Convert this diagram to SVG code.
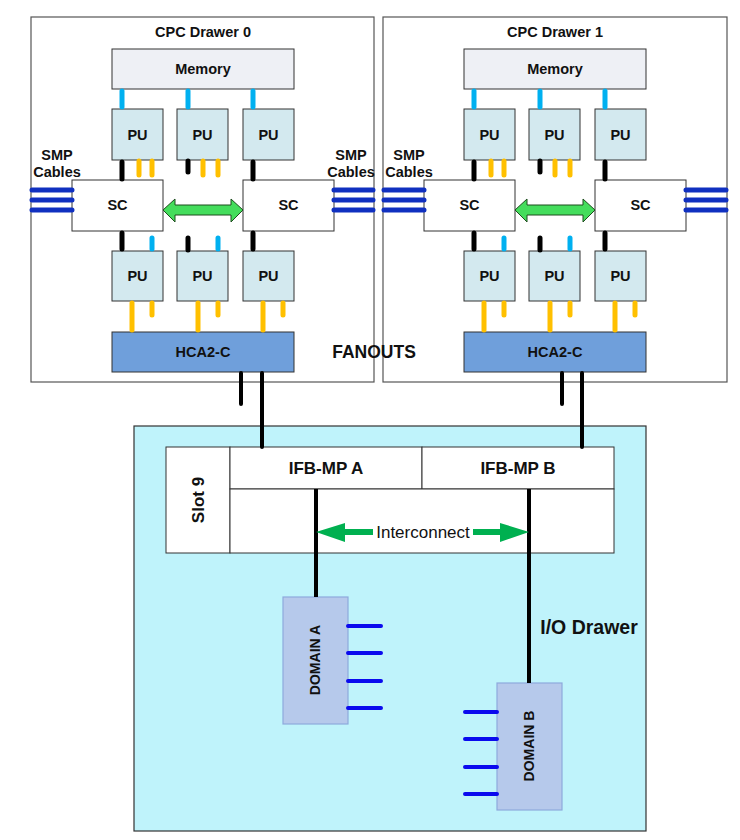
<svg xmlns="http://www.w3.org/2000/svg" width="740" height="840" viewBox="0 0 740 840">
<style>
text{font-family:"Liberation Sans",Arial,sans-serif;font-weight:bold;fill:#111;text-anchor:middle}
.t{font-size:14.5px}
.n{font-weight:normal;font-size:17px}
.drawer{fill:#fff;stroke:#555;stroke-width:1.2}
.mem{fill:#eef0f5;stroke:#333;stroke-width:1}
.pu{fill:#d3e9ef;stroke:#333;stroke-width:1}
.sc{fill:#fff;stroke:#333;stroke-width:1}
.hca{fill:#6f9fdb;stroke:#333;stroke-width:1}
.wb{fill:#fff;stroke:#333;stroke-width:1}
.dom{fill:#b6c9eb;stroke:#8eaadc;stroke-width:1.2}
.c{fill:none;stroke-linecap:round}
.blue{stroke:#00b0f0;stroke-width:5}
.blk{stroke:#000;stroke-width:5}
.org{stroke:#ffc000;stroke-width:5}
.smp{stroke:#1030c0;stroke-width:5}
.blk4{stroke:#000;stroke-width:4}
.dl{stroke:#0a0aee;stroke-width:4}
.ga{fill:#44dd5c;stroke:#1d4d1d;stroke-width:1}
.ia{fill:#00b050}
</style>
<defs>
<g id="cpcCables">
<path class="c blue" d="M122,91V107M188,91V107M253,91V107M152,238V249M218,238V249"/>
<path class="c blk" d="M122,162V179M188,161V172M253,162V179M122,233V249M188,238V250M253,233V249"/>
<path class="c org" d="M139,161V175M152,161V175M203,161V175M218,161V175M132,303V330M152,303V315M198,303V330M218,303V315M263,303V330M283,303V315"/>
</g>
</defs>

<g id="cpc-drawer-0">
<rect class="drawer" x="31" y="17" width="343" height="365"/>
<text class="t" x="203" y="37">CPC Drawer 0</text>
</g>
<g id="cpc-drawer-1">
<rect class="drawer" x="383" y="17" width="344" height="365"/>
<text class="t" x="555" y="37">CPC Drawer 1</text>
</g>
<g id="io-drawer">
<rect x="134" y="426" width="512" height="405" fill="#bff3fb" stroke="#333" stroke-width="1.2"/>
<text x="589" y="634" font-size="19.5px">I/O Drawer</text>
</g>

<g id="smp-label-0l"><text class="t" x="57" y="160">SMP</text><text class="t" x="57" y="177">Cables</text></g>
<g id="smp-label-0r"><text class="t" x="351" y="160">SMP</text><text class="t" x="351" y="177">Cables</text></g>
<g id="smp-label-1l"><text class="t" x="409" y="160">SMP</text><text class="t" x="409" y="177">Cables</text></g>
<g id="fanouts"><text x="374" y="358" font-size="17.5px">FANOUTS</text></g>

<g id="memory-0"><rect class="mem" x="112" y="49" width="182" height="40"/><text class="t" x="203" y="74">Memory</text></g>
<g id="pu-0-1"><rect class="pu" x="112" y="109" width="51" height="51"/><text class="t" x="137.5" y="140">PU</text></g>
<g id="pu-0-2"><rect class="pu" x="177" y="109" width="51" height="51"/><text class="t" x="202.5" y="140">PU</text></g>
<g id="pu-0-3"><rect class="pu" x="243" y="109" width="51" height="51"/><text class="t" x="268.5" y="140">PU</text></g>
<g id="sc-0-1"><rect class="sc" x="72" y="180" width="91" height="51"/><text class="t" x="117.5" y="210">SC</text></g>
<g id="sc-0-2"><rect class="sc" x="243" y="180" width="91" height="51"/><text class="t" x="288.5" y="210">SC</text></g>
<g id="pu-0-4"><rect class="pu" x="112" y="251" width="51" height="50"/><text class="t" x="137.5" y="281">PU</text></g>
<g id="pu-0-5"><rect class="pu" x="177" y="251" width="51" height="50"/><text class="t" x="202.5" y="281">PU</text></g>
<g id="pu-0-6"><rect class="pu" x="243" y="251" width="51" height="50"/><text class="t" x="268.5" y="281">PU</text></g>
<g id="hca-0"><rect class="hca" x="112" y="332" width="182" height="40"/><text class="t" x="203" y="357">HCA2-C</text></g>

<g id="memory-1"><rect class="mem" x="464" y="49" width="182" height="40"/><text class="t" x="555" y="74">Memory</text></g>
<g id="pu-1-1"><rect class="pu" x="464" y="109" width="51" height="51"/><text class="t" x="489.5" y="140">PU</text></g>
<g id="pu-1-2"><rect class="pu" x="529" y="109" width="51" height="51"/><text class="t" x="554.5" y="140">PU</text></g>
<g id="pu-1-3"><rect class="pu" x="595" y="109" width="51" height="51"/><text class="t" x="620.5" y="140">PU</text></g>
<g id="sc-1-1"><rect class="sc" x="424" y="180" width="91" height="51"/><text class="t" x="469.5" y="210">SC</text></g>
<g id="sc-1-2"><rect class="sc" x="595" y="180" width="91" height="51"/><text class="t" x="640.5" y="210">SC</text></g>
<g id="pu-1-4"><rect class="pu" x="464" y="251" width="51" height="50"/><text class="t" x="489.5" y="281">PU</text></g>
<g id="pu-1-5"><rect class="pu" x="529" y="251" width="51" height="50"/><text class="t" x="554.5" y="281">PU</text></g>
<g id="pu-1-6"><rect class="pu" x="595" y="251" width="51" height="50"/><text class="t" x="620.5" y="281">PU</text></g>
<g id="hca-1"><rect class="hca" x="464" y="332" width="182" height="40"/><text class="t" x="555" y="357">HCA2-C</text></g>

<g id="slot-9">
<rect class="wb" x="166" y="447" width="64" height="106"/>
<text x="0" y="0" font-size="17px" transform="translate(204,500) rotate(-90)">Slot 9</text>
</g>
<g id="ifb-mp-a"><rect class="wb" x="230" y="447" width="192" height="42"/><text x="326" y="474" font-size="17px">IFB-MP A</text></g>
<g id="ifb-mp-b"><rect class="wb" x="422" y="447" width="192" height="42"/><text x="518" y="474" font-size="17px">IFB-MP B</text></g>
<g id="slot-lower"><rect class="wb" x="230" y="489" width="384" height="64"/></g>

<g id="domain-a"><rect class="dom" x="283" y="597" width="65" height="127"/><text x="0" y="0" font-size="14px" transform="translate(320,660) rotate(-90)">DOMAIN A</text></g>
<g id="domain-b"><rect class="dom" x="497" y="683" width="65" height="127"/><text x="0" y="0" font-size="14px" transform="translate(534,746) rotate(-90)">DOMAIN B</text></g>

<g id="connectors">
<use href="#cpcCables"/>
<use href="#cpcCables" transform="translate(352,0)"/>
<path class="c smp" d="M32,190H72M32,200H72M32,210H72M334,190H373M334,200H373M334,210H373"/>
<path class="c smp" d="M384,190H424M384,200H424M384,210H424M686,190H726M686,200H726M686,210H726"/>
<polygon class="ga" points="163,210 175,199 175,205 231,205 231,199 243,210 231,222 231,215 175,215 175,222"/>
<polygon class="ga" points="515,210 527,199 527,205 583,205 583,199 595,210 583,222 583,215 527,215 527,222"/>
<path class="c blk4" d="M241,373V404M262,373V447M562,373V404M582,373V447"/>
<path class="blk4" fill="none" d="M316,489V597M529,489V683"/>
<polygon class="ia" points="316,532 345,523 345,529 373,529 373,535 345,535 345,542"/>
<polygon class="ia" points="529,532 500,523 500,529 473,529 473,535 500,535 500,542"/>
<text class="n" x="423" y="538">Interconnect</text>
<path class="c dl" d="M348,626H381M348,653H381M348,681H381M348,708H381M465,712H497M465,739H497M465,767H497M465,794H497"/>
</g>
</svg>
